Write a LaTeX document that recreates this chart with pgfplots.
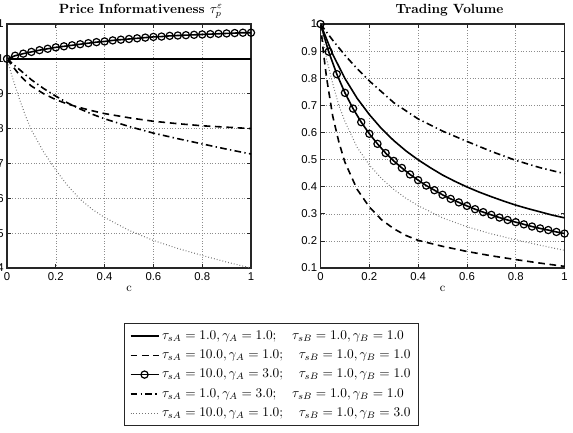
\documentclass[border=0pt]{standalone}
\usepackage{fontspec}
\usepackage{pgfplots}
\pgfplotsset{compat=1.18}
\newfontfamily\tickfont{Liberation Sans}

\pgfplotsset{
  every axis title shift=0pt,
  mystyle/.style={
    scale only axis, width=183pt, height=183pt,
    xmin=0, xmax=1,
    xtick={0,0.2,0.4,0.6,0.8,1},
    grid=major,
    grid style={dash pattern=on 0.5pt off 1.5pt, black!45, line width=0.4pt},
    axis line style={line width=0.8pt, black!85},
    tick align=inside, major tick length=3pt,
    tick style={black!85, line width=0.5pt},
    /pgf/number format/assume math mode=true,
    tick label style={font=\tickfont\fontsize{8.5}{10}\selectfont},
    yticklabel style={xshift=1pt},
    xlabel={c},
    xlabel style={font=\fontsize{9}{10}\selectfont, at={(axis description cs:0.5,0)}, anchor=center, yshift=-15.75pt},
    title style={font=\bfseries\addfontfeatures{LetterSpace=6}\fontsize{10}{12}\selectfont, anchor=base, yshift=8.25pt},
    every axis plot/.append style={line width=1.2pt, black},
    legend image code/.code={
      \draw[mark repeat=2,mark phase=2,##1] plot coordinates {(0pt,0pt) (10.5pt,0pt) (21pt,0pt)};
    },
  },
  solidA/.style={black, solid},
  dashedA/.style={black, dash pattern=on 5pt off 3.5pt},
  dashdotA/.style={black, dash pattern=on 5pt off 2.5pt on 1pt off 2.5pt},
  dottedA/.style={black!55, line width=0.8pt, dash pattern=on 0.6pt off 1.6pt},
  circA/.style={black, solid, mark=o, mark size=2.7pt, mark options={solid, line width=0.9pt}},
}

\begin{document}
\begin{tikzpicture}
\begin{axis}[mystyle, at={(5.25pt,123pt)}, anchor=south west,
  ymin=0.4, ymax=1.1,
  ytick={0.4,0.5,0.6,0.7,0.8,0.9,1.0,1.1},
  title={Price Informativeness $\tau_{p}^{\varepsilon}$},
  title style={at={(axis description cs:0.549,1)}},
  legend style={at={(axis description cs:1.084,-0.2254)}, anchor=north,
    draw=black!85, line width=0.7pt, fill=white,
    font=\fontsize{10.2}{12}\selectfont, cells={anchor=west},
    row sep=2.5pt, inner xsep=4pt, inner ysep=3.5pt},
]
\addplot[solidA] coordinates {(0,1.0) (1,1.0)};
\addlegendentry{$\tau_{sA} = 1.0, \gamma_A = 1.0;\quad \tau_{sB} = 1.0, \gamma_B = 1.0$}
\addplot[dashedA] coordinates {
(0,1.000) (0.025,0.977) (0.05,0.955) (0.075,0.937) (0.1,0.922) (0.15,0.900)
(0.2,0.883) (0.25,0.870) (0.3,0.860) (0.35,0.851) (0.4,0.843) (0.5,0.831)
(0.6,0.821) (0.7,0.814) (0.8,0.808) (0.9,0.804) (1.0,0.800)};
\addlegendentry{$\tau_{sA} = 10.0, \gamma_A = 1.0;\quad \tau_{sB} = 1.0, \gamma_B = 1.0$}
\addplot[circA] coordinates {
(0,1.000) (0.0333,1.009) (0.0667,1.015) (0.1,1.020) (0.1333,1.025) (0.1667,1.029)
(0.2,1.033) (0.2333,1.036) (0.2667,1.039) (0.3,1.042) (0.3333,1.045) (0.3667,1.048)
(0.4,1.050) (0.4333,1.053) (0.4667,1.055) (0.5,1.057) (0.5333,1.059) (0.5667,1.061)
(0.6,1.063) (0.6333,1.064) (0.6667,1.066) (0.7,1.067) (0.7333,1.068) (0.7667,1.069)
(0.8,1.070) (0.8333,1.071) (0.8667,1.072) (0.9,1.073) (0.9333,1.074) (0.9667,1.075)
(1.0,1.075)};
\addlegendentry{$\tau_{sA} = 10.0, \gamma_A = 3.0;\quad \tau_{sB} = 1.0, \gamma_B = 1.0$}
\addplot[dashdotA] coordinates {
(0,1.000) (0.05,0.970) (0.1,0.940) (0.15,0.915) (0.2,0.893) (0.25,0.873)
(0.3,0.856) (0.35,0.841) (0.4,0.828) (0.5,0.806) (0.6,0.787) (0.7,0.771)
(0.8,0.756) (0.9,0.741) (1.0,0.727)};
\addlegendentry{$\tau_{sA} = 1.0, \gamma_A = 3.0;\quad \tau_{sB} = 1.0, \gamma_B = 1.0$}
\addplot[dottedA] coordinates {
(0,1.000) (0.025,0.940) (0.05,0.887) (0.075,0.838) (0.1,0.796) (0.15,0.733)
(0.2,0.681) (0.25,0.635) (0.3,0.597) (0.35,0.568) (0.4,0.545) (0.5,0.508)
(0.6,0.479) (0.7,0.456) (0.8,0.436) (0.9,0.417) (1.0,0.400)};
\addlegendentry{$\tau_{sA} = 10.0, \gamma_A = 1.0;\quad \tau_{sB} = 1.0, \gamma_B = 3.0$}
\end{axis}

\begin{axis}[mystyle, at={(240.4pt,123pt)}, anchor=south west,
  ymin=0.1, ymax=1.0,
  ytick={0.1,0.2,0.3,0.4,0.5,0.6,0.7,0.8,0.9,1.0},
  title={Trading Volume},
  title style={at={(axis description cs:0.529,1)}},
]
\addplot[solidA] coordinates {
(0,1.000) (0.05,0.888) (0.1,0.799) (0.15,0.726) (0.2,0.666) (0.25,0.614)
(0.3,0.570) (0.35,0.532) (0.4,0.499) (0.45,0.470) (0.5,0.443) (0.55,0.420)
(0.6,0.399) (0.65,0.380) (0.7,0.363) (0.75,0.347) (0.8,0.332) (0.85,0.319)
(0.9,0.307) (0.95,0.295) (1.0,0.285)};
\addplot[dashedA] coordinates {
(0,1.000) (0.0125,0.890) (0.025,0.800) (0.05,0.660) (0.075,0.565) (0.1,0.490)
(0.15,0.390) (0.2,0.325) (0.25,0.278) (0.3,0.245) (0.35,0.220) (0.4,0.202)
(0.5,0.180) (0.6,0.161) (0.7,0.145) (0.8,0.131) (0.9,0.118) (1.0,0.106)};
\addplot[circA] coordinates {
(0,1.000) (0.0333,0.898) (0.0667,0.815) (0.1,0.746) (0.1333,0.688) (0.1667,0.638)
(0.2,0.595) (0.2333,0.558) (0.2667,0.524) (0.3,0.495) (0.3333,0.469) (0.3667,0.445)
(0.4,0.424) (0.4333,0.404) (0.4667,0.387) (0.5,0.370) (0.5333,0.355) (0.5667,0.342)
(0.6,0.329) (0.6333,0.317) (0.6667,0.306) (0.7,0.296) (0.7333,0.286) (0.7667,0.277)
(0.8,0.269) (0.8333,0.261) (0.8667,0.253) (0.9,0.246) (0.9333,0.240) (0.9667,0.233)
(1.0,0.227)};
\addplot[dashdotA] coordinates {
(0,1.000) (0.05,0.940) (0.1,0.885) (0.15,0.835) (0.2,0.790) (0.3,0.710)
(0.4,0.650) (0.5,0.605) (0.6,0.567) (0.7,0.530) (0.8,0.497) (0.9,0.470)
(1.0,0.448)};
\addplot[dottedA] coordinates {
(0,1.000) (0.025,0.870) (0.05,0.780) (0.075,0.700) (0.1,0.640) (0.15,0.545)
(0.2,0.480) (0.25,0.430) (0.3,0.390) (0.35,0.357) (0.4,0.330) (0.5,0.285)
(0.6,0.252) (0.7,0.226) (0.8,0.204) (0.9,0.184) (1.0,0.165)};
\end{axis}
\pgfresetboundingbox
\useasboundingbox (0,0) rectangle (429.75pt,324pt);
\end{tikzpicture}
\end{document}
